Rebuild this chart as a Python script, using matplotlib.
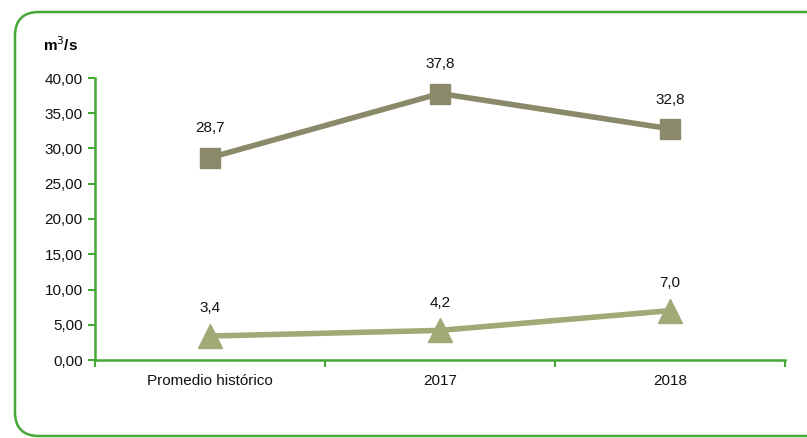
import matplotlib
matplotlib.use("Agg")
import matplotlib.pyplot as plt
from matplotlib.patches import FancyBboxPatch

categories = ["Promedio histórico", "2017", "2018"]
serie_cuadrado = [28.7, 37.8, 32.8]
serie_triangulo = [3.4, 4.2, 7.0]
yticks = [0, 5, 10, 15, 20, 25, 30, 35, 40]
ytick_labels = ["0,00", "5,00", "10,00", "15,00", "20,00", "25,00", "30,00", "35,00", "40,00"]

plt.rcParams['font.family'] = ['Liberation Sans', 'DejaVu Sans']
green = "#45A935"
c_sq = "#8A8A6A"
c_tri = "#A3A877"
fs = 11

W, H = 807, 438
fig = plt.figure(figsize=(W / 100, H / 100), dpi=100)

# background frame
bg = fig.add_axes([0, 0, 1, 1])
bg.set_xlim(0, W)
bg.set_ylim(H, 0)
bg.axis("off")
box = FancyBboxPatch((15, 12), 840, 424, boxstyle="round,pad=0,rounding_size=24",
                     fill=False, edgecolor=green, linewidth=1.8, clip_on=False)
bg.add_patch(box)

ax = fig.add_axes([95 / W, (H - 360) / H, 690 / W, 282 / H])
x = list(range(len(categories)))
ax.plot(x, serie_cuadrado, color=c_sq, linewidth=4, marker="s", markersize=15,
        markerfacecolor=c_sq, markeredgecolor=c_sq, zorder=3)
ax.plot(x, serie_triangulo, color=c_tri, linewidth=4, marker="^", markersize=17,
        markerfacecolor=c_tri, markeredgecolor=c_tri, zorder=3)

for xi, v in zip(x, serie_cuadrado):
    ax.annotate(f"{v:.1f}".replace(".", ","), (xi, v), xytext=(0, 16), textcoords="offset points",
                ha="center", va="bottom", fontsize=fs, color="#111111")
for xi, v in zip(x, serie_triangulo):
    ax.annotate(f"{v:.1f}".replace(".", ","), (xi, v), xytext=(0, 15), textcoords="offset points",
                ha="center", va="bottom", fontsize=fs, color="#111111")

ax.set_xlim(-0.5, 2.5)
ax.set_ylim(0, 40)
ax.set_yticks(yticks)
ax.set_yticklabels(ytick_labels, fontsize=fs, color="#111111")
ax.set_xticks(x)
ax.set_xticklabels(categories, fontsize=fs, color="#111111")
ax.set_xticks([-0.5, 0.5, 1.5, 2.5], minor=True)
ax.tick_params(axis="x", which="major", length=0, pad=10)
ax.tick_params(axis="x", which="minor", length=5, color=green, width=1.5, direction="out")
ax.tick_params(axis="y", length=5, color=green, width=1.5, direction="out", pad=4)

for s in ["top", "right"]:
    ax.spines[s].set_visible(False)
for s in ["left", "bottom"]:
    ax.spines[s].set_color(green)
    ax.spines[s].set_linewidth(1.8)
ax.patch.set_alpha(0)

fig.text(61 / W, 1 - 45 / H, "m$^3$/s", fontsize=fs, fontweight="bold", ha="center", va="center")

fig.savefig("out.png", dpi=100)
